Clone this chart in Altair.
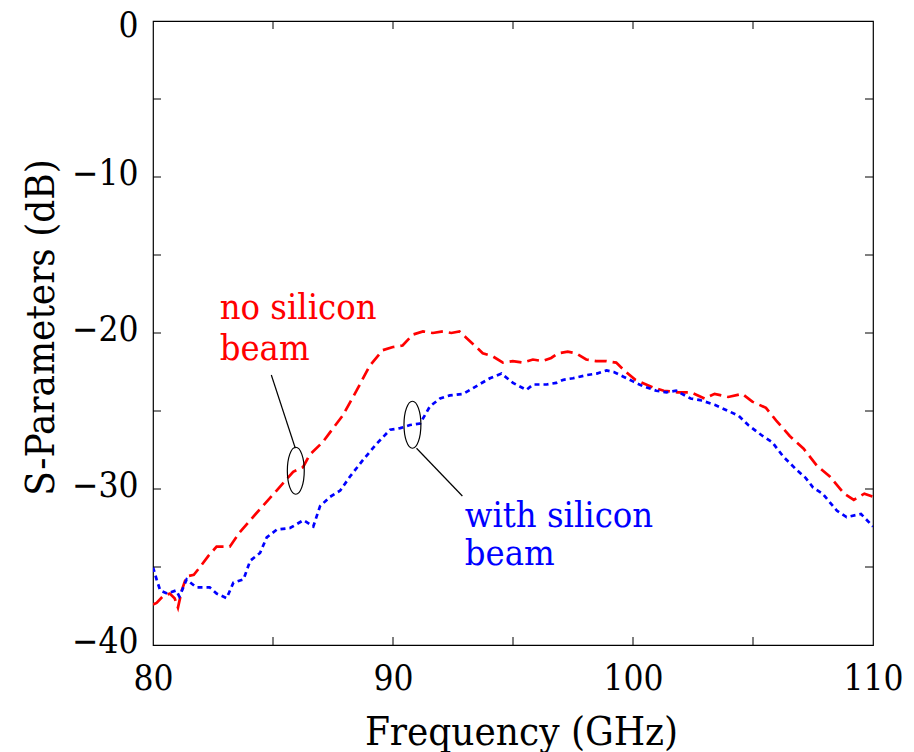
import altair as alt
import pandas as pd

# Measured transmission without the silicon beam (GHz, dB)
freq_no_beam = [80.0, 80.15, 80.4, 80.7, 80.9, 81.04, 81.2, 81.4, 81.7, 81.96, 82.3, 82.65,
                83.2, 83.6, 84.05, 84.45, 85.15, 85.84, 86.25, 86.53, 87.07, 87.36, 87.9,
                88.48, 89.03, 89.57, 90.0, 90.4, 90.83, 91.25, 91.66, 92.08, 92.43, 92.77,
                93.05, 93.47, 93.74, 94.16, 94.58, 94.99, 95.41, 95.83, 96.24, 96.59, 96.87,
                97.28, 97.63, 98.05, 98.46, 98.88, 99.3, 99.71, 100.1, 100.4, 100.85, 101.28,
                101.85, 102.4, 102.99, 103.4, 103.97, 104.55, 104.97, 105.54, 105.96, 106.53,
                107.1, 107.66, 108.2, 108.8, 109.2, 109.64, 110.0]
s_no_beam = [-37.4, -37.3, -36.9, -36.7, -37.0, -37.6, -36.5, -35.6, -35.5, -35.0, -34.3, -33.7,
             -33.7, -32.8, -32.0, -31.3, -30.1, -28.9, -28.6, -27.8, -27.0, -26.4, -25.3,
             -23.7, -22.1, -21.1, -20.9, -20.8, -20.1, -19.9, -20.0, -19.9, -20.0, -19.9,
             -20.3, -20.9, -21.3, -21.5, -21.9, -21.8, -21.9, -21.7, -21.8, -21.6, -21.3,
             -21.2, -21.3, -21.7, -21.8, -21.8, -21.9, -22.5, -23.0, -23.2, -23.5, -23.7,
             -23.8, -23.8, -24.2, -23.9, -24.1, -23.9, -24.4, -24.8, -25.6, -26.6,
             -27.4, -28.5, -29.2, -30.3, -30.7, -30.3, -30.5]

# Measured transmission with the silicon beam (GHz, dB)
freq_with_beam = [80.0, 80.15, 80.3, 80.6, 80.97, 81.1, 81.4, 81.8, 82.08, 82.36, 82.65, 83.07,
                  83.35, 83.77, 84.05, 84.46, 84.74, 85.16, 85.71, 86.27, 86.68, 86.96, 87.38,
                  87.8, 88.21, 88.77, 89.32, 89.88, 90.3, 90.71, 91.13, 91.54, 91.96, 92.37,
                  92.93, 93.48, 94.04, 94.52, 95.0, 95.56, 95.84, 96.4, 96.8, 97.1, 97.5,
                  98.07, 98.49, 98.9, 99.2, 99.6, 100.0, 100.4, 100.97, 101.4, 101.8, 102.4,
                  102.8, 103.4, 103.97, 104.4, 104.8, 105.4, 105.8, 106.25, 106.8, 107.2,
                  107.5, 107.9, 108.5, 108.9, 109.5, 110.0]
s_with_beam = [-35.0, -35.8, -36.5, -36.7, -36.5, -36.9, -35.8, -36.3, -36.3, -36.3, -36.7, -37.0,
               -36.0, -35.8, -34.6, -34.1, -33.1, -32.6, -32.5, -32.0, -32.4, -31.1, -30.5,
               -30.1, -29.2, -28.1, -27.1, -26.2, -26.1, -25.9, -25.8, -24.7, -24.2, -24.0,
               -23.9, -23.4, -22.9, -22.6, -23.2, -23.65, -23.3, -23.3, -23.2, -23.0, -22.9,
               -22.7, -22.6, -22.4, -22.5, -22.8, -23.1, -23.4, -23.7, -23.8, -23.7, -24.2,
               -24.3, -24.6, -25.0, -25.3, -25.9, -26.6, -27.0, -27.9, -28.75, -29.3,
               -29.9, -30.3, -31.4, -31.8, -31.6, -32.4]

series_names = ["no silicon beam", "with silicon beam"]
series_colors = ["#ff0000", "#0000ff"]

x_label_values = [80, 90, 100, 110]
y_label_values = [-40, -30, -20, -10, 0]
x_minor = [85, 90, 95, 100, 105]
y_minor = [-35, -30, -25, -20, -15, -10, -5]

# Callout labels (text, frequency, dB, series)
label_text = ["no silicon", "beam", "with silicon", "beam"]
label_freq = [82.78, 82.78, 92.99, 92.99]
label_db = [-19.12, -21.73, -32.42, -34.87]
label_series = ["no silicon beam", "no silicon beam", "with silicon beam", "with silicon beam"]

# Ellipses marking each trace, and the leader lines to the labels
ellipse_freq = [85.95, 90.81]
ellipse_db = [-28.83, -25.88]
leader_f1 = [84.93, 90.98]
leader_d1 = [-22.69, -27.39]
leader_f2 = [85.93, 92.89]
leader_d2 = [-27.39, -30.45]

FONT = "DejaVu Serif Condensed, DejaVu Serif"
W, H = 720, 624

curves = pd.concat([
    pd.DataFrame({"f": freq_no_beam, "s": s_no_beam, "series": series_names[0]}),
    pd.DataFrame({"f": freq_with_beam, "s": s_with_beam, "series": series_names[1]}),
])
labels = pd.DataFrame({"text": label_text, "f": label_freq, "s": label_db, "series": label_series})
ellipses = pd.DataFrame({"f": ellipse_freq, "s": ellipse_db})
leaders = pd.DataFrame({"f": leader_f1, "s": leader_d1, "f2": leader_f2, "s2": leader_d2})
xt = pd.DataFrame({"f": x_minor})
yt = pd.DataFrame({"s": y_minor})

x_scale = alt.Scale(domain=[80, 110], nice=False, zero=False)
y_scale = alt.Scale(domain=[-40, 0], nice=False, zero=False)
color_scale = alt.Scale(domain=series_names, range=series_colors)

x_axis = alt.Axis(
    values=x_label_values, title="Frequency (GHz)", grid=False, domain=False,
    ticks=False, tickSize=0, labelPadding=44, labelBaseline="alphabetic",
    labelFont=FONT, labelFontSize=35, labelColor="black", labelFlush=False,
    labelOverlap=False, titleFont=FONT, titleFontSize=40, titleFontWeight="normal",
    titleColor="black", titleX=368, titleY=99, titleBaseline="alphabetic",
    titleAlign="center",
)
y_axis = alt.Axis(
    values=y_label_values, title="S-Parameters (dB)", grid=False, domain=False,
    ticks=False, tickSize=0, labelPadding=15, labelBaseline="alphabetic",
    labelOffset={"condition": {"test": "datum.value === 0", "value": 15}, "value": 7},
    labelAlign="right", labelFont=FONT, labelFontSize=35,
    labelColor="black", labelFlush=False, labelOverlap=False,
    titleFont=FONT, titleFontSize=40, titleFontWeight="normal", titleColor="black",
    titleAngle=270, titleX=-100, titleY=306, titleBaseline="alphabetic",
    titleAlign="center",
)


def X(field="f"):
    return alt.X(f"{field}:Q", scale=x_scale, axis=x_axis)


def Y(field="s"):
    return alt.Y(f"{field}:Q", scale=y_scale, axis=y_axis)


lines = alt.Chart(curves).mark_line(strokeWidth=2.7, clip=True).encode(
    x=X(), y=Y(),
    color=alt.Color("series:N", scale=color_scale, legend=None),
    strokeDash=alt.StrokeDash(
        "series:N",
        scale=alt.Scale(domain=series_names, range=[[12, 6], [5, 4]]),
        legend=None,
    ),
    order="f:Q",
)

# Inward tick marks on all four sides of the frame
tick_style = dict(color="black", strokeWidth=1)
ticks_bottom = alt.Chart(xt).mark_rule(**tick_style).encode(
    x=X(), y=alt.value(H), y2=alt.value(H - 8))
ticks_top = alt.Chart(xt).mark_rule(**tick_style).encode(
    x=X(), y=alt.value(0), y2=alt.value(8))
ticks_left = alt.Chart(yt).mark_rule(**tick_style).encode(
    y=Y(), x=alt.value(0), x2=alt.value(8))
ticks_right = alt.Chart(yt).mark_rule(**tick_style).encode(
    y=Y(), x=alt.value(W), x2=alt.value(W - 8))

ellipse_path = "M0,-1 A0.36,1 0 1,1 0,1 A0.36,1 0 1,1 0,-1 Z"
rings = alt.Chart(ellipses).mark_point(
    shape=ellipse_path, size=2209, filled=False, color="black", strokeWidth=1.2, opacity=1
).encode(x=X(), y=Y())

leader_lines = alt.Chart(leaders).mark_rule(color="black", strokeWidth=1.2).encode(
    x=X(), y=Y(), x2="f2:Q", y2="s2:Q")

texts = alt.Chart(labels).mark_text(
    font=FONT, fontSize=36, align="left", baseline="alphabetic"
).encode(
    x=X(), y=Y(), text="text:N",
    color=alt.Color("series:N", scale=color_scale, legend=None),
)

chart = alt.layer(
    lines, ticks_bottom, ticks_top, ticks_left, ticks_right, rings, leader_lines, texts
).properties(
    width=W, height=H,
    autosize=alt.AutoSizeParams(type="none"),
    padding={"left": 153, "top": 21, "right": 41, "bottom": 107},
    background="white",
).configure_view(
    stroke="black", strokeWidth=1.2
)

chart.save("out.html", embed_options={"renderer": "svg", "actions": False})
